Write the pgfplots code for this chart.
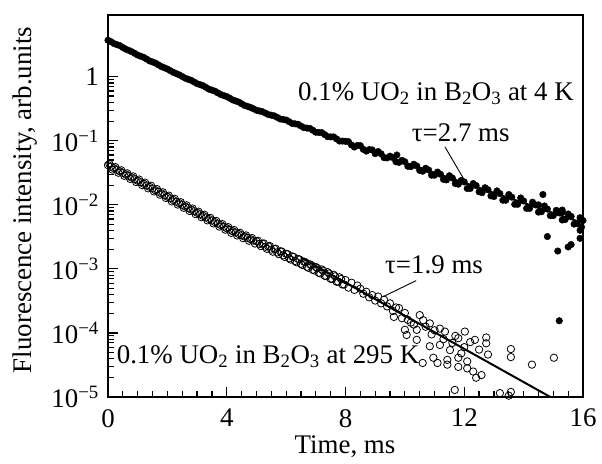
\documentclass[border=0pt]{standalone}
\usepackage{pgfplots}
\pgfplotsset{compat=1.18}
\usepackage{fontspec}
\setmainfont{Liberation Serif}
\newcommand\tenpow[1]{10\textsuperscript{#1}}
\begin{document}
\fontsize{27}{32}\selectfont
\begin{tikzpicture}
\path[use as bounding box] (-108bp,-67bp) rectangle (494bp,397bp);
\begin{axis}[
  at={(0,0)}, anchor=south west,
  scale only axis, width=475bp, height=382bp,
  ymode=log, xmin=0, xmax=16, ymin=1e-5, ymax=9.2,
  xtick={0,4,8,12,16}, minor x tick num=7,
  ytick={1e-5,1e-4,1e-3,1e-2,1e-1,1},
  yticklabels={\tenpow{−5},\tenpow{−4},\tenpow{−3},\tenpow{−2},\tenpow{−1},1},
  /pgf/number format/assume math mode=true,
  xtick pos=left, ytick pos=left,
  tick align=inside, major tick length=10bp, minor tick length=6bp,
  axis line style={line width=2.4bp},
  every tick/.style={line width=1.2bp, black},
  xticklabel style={yshift=-3bp},
  clip=true,
]
% 4 K data (filled dots)
\addplot[only marks, mark=*, mark size=3.3bp, black] coordinates {
(0,3.72)(0.2,3.30)(0.4,3.05)(0.6,2.70)(0.8,2.46)(1.0,2.18)(1.2,2.01)(1.4,1.77)(1.6,1.63)(1.8,1.44)
(2.0,1.32)(2.2,1.17)(2.4,1.07)(2.6,0.95)(2.8,0.88)(3.0,0.78)(3.2,0.725)(3.4,0.64)(3.6,0.595)(3.8,0.527)
(4.0,0.49)(4.2,0.435)(4.4,0.403)(4.6,0.356)(4.8,0.332)(5.0,0.300)(5.2,0.285)(5.4,0.257)(5.6,0.245)(5.8,0.219)
(6.0,0.211)(6.2,0.187)(6.4,0.181)(6.6,0.160)(6.8,0.156)(7.0,0.136)(7.2,0.134)(7.4,0.116)(7.6,0.115)(7.8,0.099)
(8.0,0.098)(8.2,0.0860)(8.4,0.0845)(8.6,0.0735)(8.8,0.0730)(9.0,0.0630)(9.2,0.0625)(9.4,0.0540)(9.6,0.0545)(9.8,0.0460)
(10.0,0.0470)(10.2,0.0395)(10.4,0.0405)(10.6,0.0335)(10.8,0.0350)(11.0,0.0290)(11.2,0.0300)(11.4,0.0245)(11.6,0.0262)(11.8,0.0210)
(12.0,0.0228)(12.2,0.0180)(12.4,0.0200)(12.6,0.0155)(12.8,0.0172)(13.0,0.0135)(13.2,0.0150)(13.4,0.0118)(13.6,0.0132)(13.8,0.0102)
(14.0,0.0115)(14.2,0.0088)(14.4,0.0100)(14.6,0.0078)(14.8,0.0086)(15.0,0.0068)(15.2,0.0075)(15.4,0.0059)(15.6,0.0066)(15.8,0.0051)(16.0,0.0057)
(0.1,3.52)(0.3,3.17)(0.5,2.86)(0.7,2.58)(0.9,2.32)(1.1,2.09)(1.3,1.89)(1.5,1.70)(1.7,1.53)(1.9,1.38)
(2.1,1.245)(2.3,1.12)(2.5,1.01)(2.7,0.913)(2.9,0.828)(3.1,0.752)(3.3,0.682)(3.5,0.618)(3.7,0.560)(3.9,0.508)
(4.1,0.462)(4.3,0.419)(4.5,0.379)(4.7,0.344)(4.9,0.316)(5.1,0.292)(5.3,0.271)(5.5,0.251)(5.7,0.232)(5.9,0.215)
(6.1,0.199)(6.3,0.184)(6.5,0.170)(6.7,0.158)(6.9,0.146)(7.1,0.135)(7.3,0.125)(7.5,0.115)(7.7,0.107)(7.9,0.099)
(8.1,0.097)(8.3,0.080)(8.5,0.084)(8.7,0.069)(8.9,0.072)(9.1,0.068)(9.3,0.0545)(9.5,0.0575)(9.7,0.047)(9.9,0.0495)
(10.1,0.040)(10.3,0.043)(10.5,0.0345)(10.7,0.0372)(10.9,0.029)(11.1,0.0325)(11.3,0.025)(11.5,0.0285)(11.7,0.0215)(11.9,0.024)
(12.1,0.018)(12.3,0.0215)(12.5,0.016)(12.7,0.0185)(12.9,0.0138)(13.1,0.0165)(13.3,0.0118)(13.5,0.0145)(13.7,0.0102)(13.9,0.0128)
(14.1,0.0088)(14.3,0.0110)(14.5,0.0077)(14.7,0.0096)(14.9,0.0068)(15.1,0.0082)(15.3,0.0058)(15.5,0.0072)(15.7,0.0050)(15.9,0.0063)
(9.73,0.060)(14.65,0.0145)(14.5,0.0100)(15.3,0.0083)(15.3,0.0077)(14.8,0.0032)(15.15,0.0019)(15.5,0.0022)(15.6,0.0024)
(15.2,0.000155)(15.95,0.0045)(15.9,0.0040)(15.9,0.0030)
};
% 295 K data (open circles)
\addplot[only marks, mark=o, mark size=3.7bp, black, mark options={line width=0.8bp}] coordinates {
(0.0,0.0417)(0.1,0.0394)(0.2,0.0373)(0.3,0.0352)(0.4,0.0333)(0.5,0.0315)(0.6,0.0298)(0.7,0.0282)(0.8,0.0267)(0.9,0.0252)
(1.0,0.0238)(1.1,0.0225)(1.2,0.0213)(1.3,0.0201)(1.4,0.0191)(1.5,0.0180)(1.6,0.0169)(1.7,0.0160)(1.8,0.0151)(1.9,0.0142)
(2.0,0.0134)(2.1,0.0126)(2.2,0.0119)(2.3,0.0112)(2.4,0.0106)(2.5,0.0100)(2.6,0.00944)(2.7,0.00891)(2.8,0.00843)(2.9,0.00797)
(3.0,0.00753)(3.1,0.00712)(3.2,0.00673)(3.3,0.00637)(3.4,0.00602)(3.5,0.00570)(3.6,0.00538)(3.7,0.00509)(3.8,0.00482)(3.9,0.00455)
(4.0,0.00431)(4.1,0.00407)(4.2,0.00388)(4.3,0.00370)(4.4,0.00352)(4.5,0.00336)(4.6,0.00320)(4.7,0.00305)(4.8,0.00291)(4.9,0.00277)
(5.0,0.00270)(5.1,0.00245)(5.2,0.00248)(5.3,0.00222)(5.4,0.00225)(5.5,0.00200)(5.6,0.00206)(5.7,0.00181)(5.8,0.00188)(5.9,0.00163)
(6.0,0.00172)(6.1,0.00147)(6.2,0.00157)(6.3,0.00133)(6.4,0.00143)(6.5,0.00120)(6.6,0.00130)(6.7,0.00108)(6.8,0.00118)(6.9,0.00097)
(7.0,0.00107)(7.1,0.00087)(7.2,0.00098)(7.3,0.00078)(7.4,0.00089)(7.5,0.00070)(7.6,0.00081)(7.7,0.00063)(7.8,0.00074)(7.9,0.00057)
(8.0,0.00067)(8.1,0.00051)(8.2,0.00061)(8.3,0.00047)(8.4,0.00055)(8.5,0.00049)(8.6,0.00041)(8.7,0.00044)(8.8,0.00036)(8.9,0.00039)
(9.0,0.00032)(9.1,0.00037)(9.2,0.00029)(9.3,0.00033)(9.4,0.00026)(9.5,0.00029)(9.6,0.00022)(9.7,0.00025)
(0.05,0.0434)(0.15,0.0355)(0.25,0.0388)(0.35,0.0317)(0.45,0.0346)(0.55,0.0284)(0.65,0.0310)(0.75,0.0254)(0.85,0.0278)(0.95,0.0227)
(1.05,0.0248)(1.15,0.0203)(1.25,0.0222)(1.35,0.0181)(1.45,0.0199)(1.55,0.0162)(1.65,0.0176)(1.75,0.0144)(1.85,0.0157)(1.95,0.0128)
(2.05,0.0139)(2.15,0.0113)(2.25,0.0124)(2.35,0.0101)(2.45,0.0110)(2.55,0.0090)(2.65,0.00982)(2.75,0.00802)(2.85,0.00877)(2.95,0.00717)
(3.05,0.00783)(3.15,0.00641)(3.25,0.00700)(3.35,0.00573)(3.45,0.00626)(3.55,0.00513)(3.65,0.00560)(3.75,0.00458)(3.85,0.00501)(3.95,0.00410)
(4.05,0.00448)(4.15,0.00366)(4.25,0.00404)(4.35,0.00333)(4.45,0.00366)(4.55,0.00302)(4.65,0.00333)(4.75,0.00275)(4.85,0.00303)(4.95,0.00249)
(5.05,0.00275)(5.15,0.00227)(5.25,0.00250)(5.35,0.00206)(5.45,0.00227)(5.55,0.00186)(5.65,0.00206)(5.75,0.00170)(5.85,0.00187)(5.95,0.00154)
(6.05,0.00170)(6.15,0.00140)(6.25,0.00154)(6.35,0.00127)(6.45,0.00140)(6.55,0.00115)(6.65,0.00127)(6.75,0.00104)(6.85,0.00114)(6.95,0.000945)
(7.05,0.00103)(7.15,0.000851)(7.25,0.000937)(7.35,0.000771)(7.45,0.000848)(7.55,0.000698)(7.65,0.000766)(7.75,0.000631)(7.85,0.000694)(7.95,0.000571)
(9.63,1.78e-4)(9.8,2.45e-4)(10.0,2.05e-4)(10.2,1.45e-4)(10.0,1.12e-4)(10.06,9.3e-5)(10.4,7.8e-5)(10.4,1.12e-4)(10.5,1.9e-4)(10.62,1.58e-4)
(10.84,1.41e-4)(10.84,6.2e-5)(11.18,1.17e-4)(11.18,6.5e-5)(11.35,1.05e-4)(11.52,5.4e-5)(12.02,1.05e-4)(11.8,8.3e-5)(12.36,7.8e-5)(12.74,8.5e-5)
(12.74,6.9e-5)(12.8,4.6e-5)(13.57,5.6e-5)(13.57,4.2e-5)(14.28,3.2e-5)(15.02,4.1e-5)(10.6,3.4e-5)(10.96,4.1e-5)(11.1,3.4e-5)(11.43,3.8e-5)
(11.43,3.2e-5)(11.8,4.1e-5)(11.8,2.95e-5)(12.1,2.8e-5)(12.3,2.5e-5)(12.4,2.0e-5)(12.58,2.2e-5)(11.68,1.29e-5)(13.2,1.15e-5)(13.57,1.2e-5)
(13.5,1.05e-5)(9.9,1.7e-4)(10.1,1.6e-4)(10.3,1.35e-4)(10.7,1.25e-4)(10.9,9.5e-5)(11.0,1.1e-4)(11.3,8e-5)(11.6,7e-5)(11.7,9e-5)
(12.0,6e-5)(12.2,7.2e-5)(12.5,5.5e-5)(11.9,4.8e-5)(12.1,3.6e-5)
};
% fits
\addplot[black, line width=2bp] coordinates {(8,0.094)(16,0.0052)};
\addplot[black, line width=2bp] coordinates {(6.5,0.0015)(14.9,1e-5)};
% annotations
\node[anchor=base west, inner sep=0pt] at (axis cs:6.4,0.43) {0.1\% UO\textsubscript{2} in B\textsubscript{2}O\textsubscript{3} at 4 K};
\node[anchor=base west, inner sep=0pt] at (axis cs:10.23,0.0964) {τ=2.7 ms};
\draw[line width=0.9bp] (axis cs:11.35,0.0805) -- (axis cs:11.97,0.0259);
\node[anchor=base west, inner sep=0pt] at (axis cs:9.33,8.36e-4) {τ=1.9 ms};
\draw[line width=0.9bp] (axis cs:10.38,6.56e-4) -- (axis cs:9.27,3.69e-4);
\node[anchor=base west, inner sep=0pt] at (axis cs:0.29,3.37e-5) {0.1\% UO\textsubscript{2} in B\textsubscript{2}O\textsubscript{3} at 295 K};
\end{axis}
\node[rotate=90, anchor=north, inner sep=0pt] at (-95bp,197bp) {Fluorescence intensity, arb.units};
\node[anchor=base, inner sep=0pt] at (237bp,-56bp) {Time, ms};
\end{tikzpicture}
\end{document}
